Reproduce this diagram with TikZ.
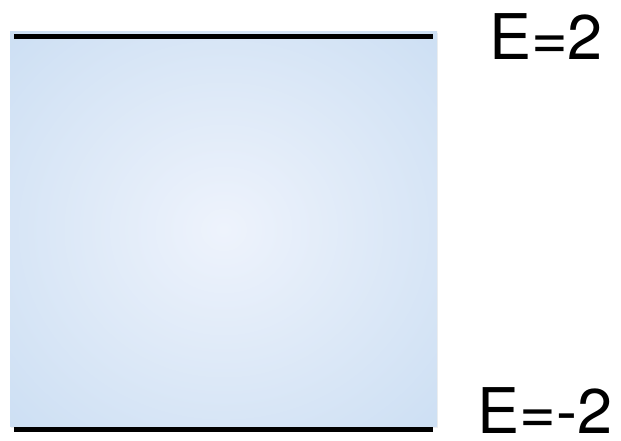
\documentclass[tikz,border=0pt]{standalone}
\usepackage{fontspec}
\setmainfont{TeX Gyre Heros}
\usetikzlibrary{shadows}
\definecolor{boxin}{HTML}{EEF3FC}
\definecolor{boxmid}{HTML}{C1D8F0}
\definecolor{boxout}{HTML}{B8D1EC}
\pgfdeclareradialshading{boxshade}{\pgfpoint{0bp}{0bp}}{color(0bp)=(boxin); color(48bp)=(boxmid); color(71bp)=(boxout)}
\tikzset{
  levelline/.style={line width=5pt, black},
  elabel/.style={anchor=base, inner sep=0pt, font=\fontsize{63}{70}\selectfont},
  wellbox/.style={draw=none, shading=boxshade, drop shadow={opacity=0.12, shadow xshift=1pt, shadow yshift=-1pt}}
}
\begin{document}
\begin{tikzpicture}[x=1pt,y=1pt]
\useasboundingbox (0,0) rectangle (621,441);
\fill[white] (0,0) rectangle (621,441);
\node[wellbox, minimum width=427pt, minimum height=395pt, inner sep=0pt, outer sep=0pt] (well) at (223.5,211.5) {};
\coordinate (tl) at (14,404.5);
\coordinate (tr) at (433,404.5);
\coordinate (bl) at (14,11);
\coordinate (br) at (433,11);
\draw[levelline] (tl) -- (tr);
\draw[levelline] (bl) -- (br);
\node[elabel] (etop) at (546,381) {E=2};
\node[elabel] (ebot) at (545,7) {E=-2};
\end{tikzpicture}
\end{document}
